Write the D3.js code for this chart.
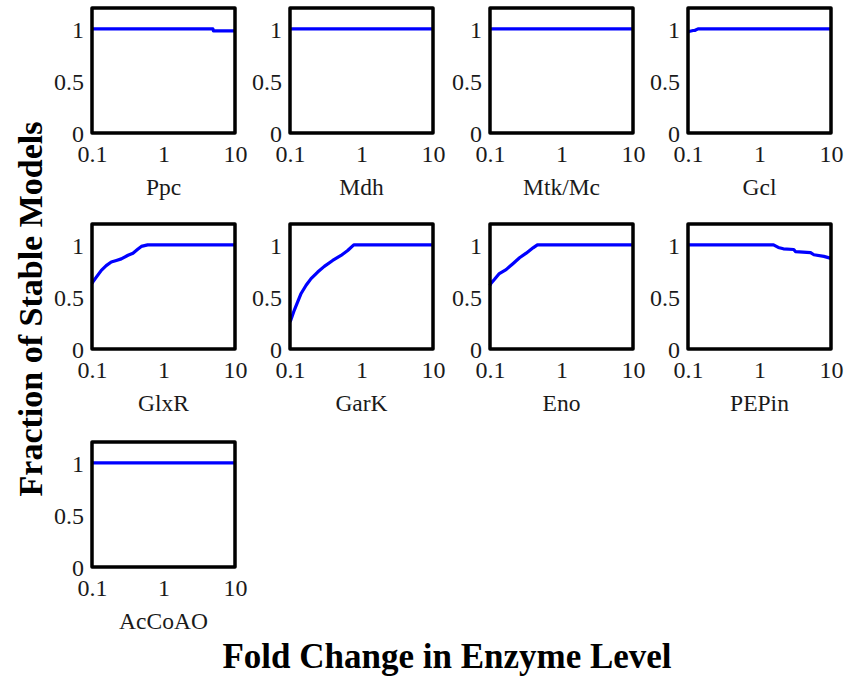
<!DOCTYPE html>
<html>
<head>
<meta charset="utf-8">
<script src="https://cdn.jsdelivr.net/npm/d3@7"></script>
<style>
  html, body { margin: 0; padding: 0; background: #fff; }
  svg { display: block; }
</style>
</head>
<body>
<svg id="chart" width="849" height="679"></svg>
<script>
// Fraction of stable models versus fold change in each enzyme level
const panelNames = ["Ppc", "Mdh", "Mtk/Mc", "Gcl", "GlxR", "GarK", "Eno", "PEPin", "AcCoAO"];

const ppcFold = [0.1, 4.9, 5.0, 10];
const ppcFrac = [1, 1, 0.98, 0.98];

const mdhFold = [0.1, 10];
const mdhFrac = [1, 1];

const mtkFold = [0.1, 10];
const mtkFrac = [1, 1];

const gclFold = [0.1, 0.103, 0.118, 0.124, 0.138, 10];
const gclFrac = [0.968, 0.975, 0.984, 0.984, 1, 1];

const glxrFold = [0.1, 0.103, 0.115, 0.135, 0.158, 0.186, 0.219, 0.257, 0.319, 0.374, 0.44, 0.49, 0.6, 10];
const glxrFrac = [0.63, 0.644, 0.69, 0.755, 0.80, 0.835, 0.85, 0.865, 0.90, 0.92, 0.96, 0.985, 1, 1];

const garkFold = [0.1, 0.103, 0.115, 0.128, 0.143, 0.168, 0.197, 0.244, 0.302, 0.395, 0.517, 0.641, 0.78, 10];
const garkFrac = [0.26, 0.28, 0.374, 0.453, 0.533, 0.612, 0.676, 0.739, 0.793, 0.85, 0.898, 0.946, 1, 1];

const enoFold = [0.1, 0.103, 0.115, 0.135, 0.168, 0.209, 0.259, 0.321, 0.40, 0.46, 10];
const enoFrac = [0.61, 0.63, 0.667, 0.724, 0.762, 0.819, 0.876, 0.92, 0.971, 1, 1];

const pepinFold = [0.1, 1.57, 1.83, 2.16, 3.01, 3.18, 5.18, 5.76, 7.95, 10];
const pepinFrac = [1, 1, 0.975, 0.962, 0.955, 0.935, 0.925, 0.905, 0.889, 0.87];

const accoaoFold = [0.1, 10];
const accoaoFrac = [1, 1];

const foldSeries = [ppcFold, mdhFold, mtkFold, gclFold, glxrFold, garkFold, enoFold, pepinFold, accoaoFold];
const fracSeries = [ppcFrac, mdhFrac, mtkFrac, gclFrac, glxrFrac, garkFrac, enoFrac, pepinFrac, accoaoFrac];

const xTicks = [0.1, 1, 10];
const xTickLabels = ["0.1", "1", "10"];
const yTicks = [0, 0.5, 1];
const yTickLabels = ["0", "0.5", "1"];

const xTitle = "Fold Change in Enzyme Level";
const yTitle = "Fraction of Stable Models";

// layout
const colLeft = [92, 290, 490, 688];
const rowTop = [8, 224, 442];
const boxW = 143, boxH = 125;
const serif = "'Liberation Serif', 'DejaVu Serif', serif";

const svg = d3.select("#chart");

panelNames.forEach((name, i) => {
  const col = i % 4, row = Math.floor(i / 4);
  const g = svg.append("g").attr("transform", `translate(${colLeft[col]},${rowTop[row]})`);

  const x = d3.scaleLog().domain([0.1, 10]).range([0, boxW]);
  const y = d3.scaleLinear().domain([0, 1.2]).range([boxH, 0]);

  const xAxis = g.append("g").attr("transform", `translate(0,${boxH})`)
    .call(d3.axisBottom(x).tickValues(xTicks).tickSize(0)
      .tickFormat((d, k) => xTickLabels[k]));
  xAxis.select(".domain").remove();
  xAxis.selectAll("text").attr("y", 29).attr("dy", null)
    .attr("font-family", serif).attr("font-size", 24).attr("fill", "#1a1a1a");

  const yAxis = g.append("g")
    .call(d3.axisLeft(y).tickValues(yTicks).tickSize(0).tickPadding(8)
      .tickFormat((d, k) => yTickLabels[k]));
  yAxis.select(".domain").remove();
  yAxis.selectAll("text").attr("dy", "0.34em")
    .attr("font-family", serif).attr("font-size", 24).attr("fill", "#1a1a1a");

  const pts = foldSeries[i].map((f, k) => [f, fracSeries[i][k]]);
  g.append("path")
    .datum(pts)
    .attr("fill", "none")
    .attr("stroke", "#0000ff")
    .attr("stroke-width", 3.2)
    .attr("stroke-linejoin", "round")
    .attr("d", d3.line().x(d => x(d[0])).y(d => y(d[1])));

  g.append("rect")
    .attr("x", 0).attr("y", 0).attr("width", boxW).attr("height", boxH)
    .attr("fill", "none").attr("stroke", "#000").attr("stroke-width", 3.5)
    .attr("stroke-linejoin", "round");

  g.append("text")
    .attr("x", boxW / 2).attr("y", boxH + 62)
    .attr("text-anchor", "middle")
    .attr("font-family", serif).attr("font-size", 23.5).attr("fill", "#1a1a1a")
    .text(name);
});

svg.append("text")
  .attr("transform", "translate(42,309) rotate(-90)")
  .attr("text-anchor", "middle")
  .attr("font-family", serif).attr("font-weight", "bold").attr("font-size", 34)
  .attr("fill", "#000")
  .text(yTitle);

svg.append("text")
  .attr("x", 447).attr("y", 668)
  .attr("text-anchor", "middle")
  .attr("font-family", serif).attr("font-weight", "bold").attr("font-size", 35)
  .attr("fill", "#000")
  .text(xTitle);
</script>
</body>
</html>
